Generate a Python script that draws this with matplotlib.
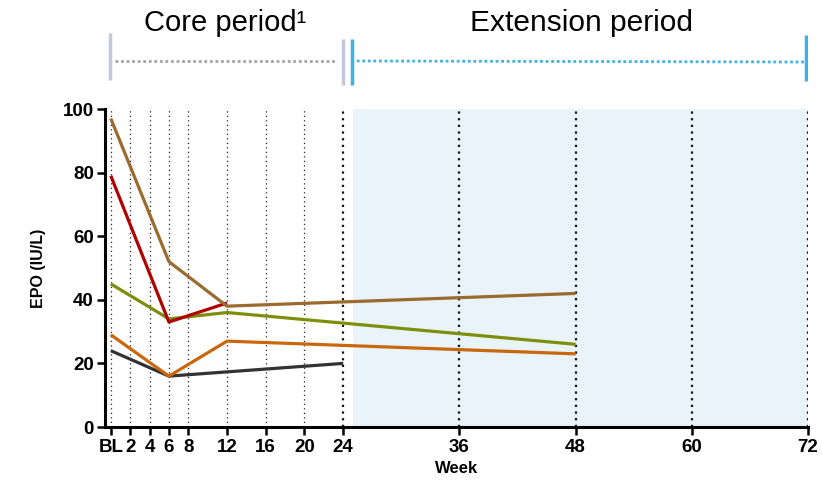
import numpy as np
import matplotlib.pyplot as plt

plt.rcParams['font.family'] = ['Liberation Sans', 'DejaVu Sans']

# weeks and EPO values (IU/L) per subject
weeks_brown = [0, 6, 12, 48]
epo_brown = [97, 52, 38, 42]
weeks_red = [0, 6, 12]
epo_red = [79, 33, 39]
weeks_olive = [0, 6, 12, 48]
epo_olive = [45, 34, 36, 26]
weeks_orange = [0, 6, 12, 48]
epo_orange = [29, 16, 27, 23]
weeks_grey = [0, 6, 24]
epo_grey = [24, 16, 20]

core_ticks = [0, 2, 4, 6, 8, 12, 16, 20]
ext_ticks = [24, 36, 48, 60, 72]
tick_labels = ['BL', '2', '4', '6', '8', '12', '16', '20', '24', '36', '48', '60', '72']
y_ticks = [0, 20, 40, 60, 80, 100]

XMIN, XMAX = -0.6, 72

fig = plt.figure(figsize=(8.22, 4.83), dpi=100)
W, H = 822, 483
ax = fig.add_axes([105 / W, 1 - 427 / H, (808 - 105) / W, (427 - 109) / H])

# extension period shading
ax.axvspan(25, 72, color='#e9f4fa', zorder=0, lw=0)

for w in core_ticks:
    ax.axvline(w, color='#222222', lw=0.9, ls=(0, (1, 2.6)), zorder=1)
for w in ext_ticks:
    ax.axvline(w, color='#111111', lw=1.6, ls=(0, (1, 2.0)), zorder=1)

series = [
    (weeks_grey, epo_grey, '#333333'),
    (weeks_orange, epo_orange, '#c9670c'),
    (weeks_olive, epo_olive, '#7d8e0a'),
    (weeks_red, epo_red, '#b00000'),
    (weeks_brown, epo_brown, '#9a6a2f'),
]
for x, y, c in series:
    ax.plot(x, y, color=c, lw=2.3, zorder=3, solid_capstyle='butt')

ax.set_xlim(XMIN, XMAX)
ax.set_ylim(0, 100)
ax.set_xticks(core_ticks + ext_ticks)
ax.set_xticklabels(tick_labels)
ax.set_yticks(y_ticks)
for lab in ax.get_xticklabels() + ax.get_yticklabels():
    lab.set_fontweight('bold')
    lab.set_fontsize(13.5)
ax.tick_params(axis='both', direction='out', length=6, width=1.8, pad=2)
ax.tick_params(axis='x', pad=3)
for s in ['top', 'right']:
    ax.spines[s].set_visible(False)
for s in ['left', 'bottom']:
    ax.spines[s].set_linewidth(2.2)
ax.set_xlabel('Week', fontsize=12, fontweight='bold', labelpad=3)
ax.set_ylabel('EPO (IU/L)', fontsize=11.5, fontweight='bold', labelpad=12)

# period header above the plot
hx = fig.add_axes([105 / W, 1 - 100 / H, (808 - 105) / W, 100 / H])
hx.set_xlim(XMIN, XMAX)
hx.set_ylim(100, 0)
hx.axis('off')
grey_bar = '#c3c7d8'
blue = '#3db2e4'
hx.plot([-0.1, -0.1], [33, 80], color=grey_bar, lw=2.5, solid_capstyle='butt')
hx.plot([0.4, 23.4], [61, 61], color='#a3a3a3', lw=2.0, ls=(0, (1, 1)))
hx.plot([24.0, 24.0], [39, 85], color=grey_bar, lw=2.5, solid_capstyle='butt')
hx.plot([24.9, 24.9], [39, 85], color=blue, lw=2.5, solid_capstyle='butt')
hx.plot([25.4, 71.6], [61, 62], color=blue, lw=2.0, ls=(0, (1, 1)))
hx.plot([71.8, 71.8], [35, 81], color=blue, lw=2.5, solid_capstyle='butt')
hx.text(11.8, 23, 'Core period\u00b9', ha='center', va='center', fontsize=21)
hx.text(48.6, 23, 'Extension period', ha='center', va='center', fontsize=21.5)

fig.savefig('out.png', dpi=100)
